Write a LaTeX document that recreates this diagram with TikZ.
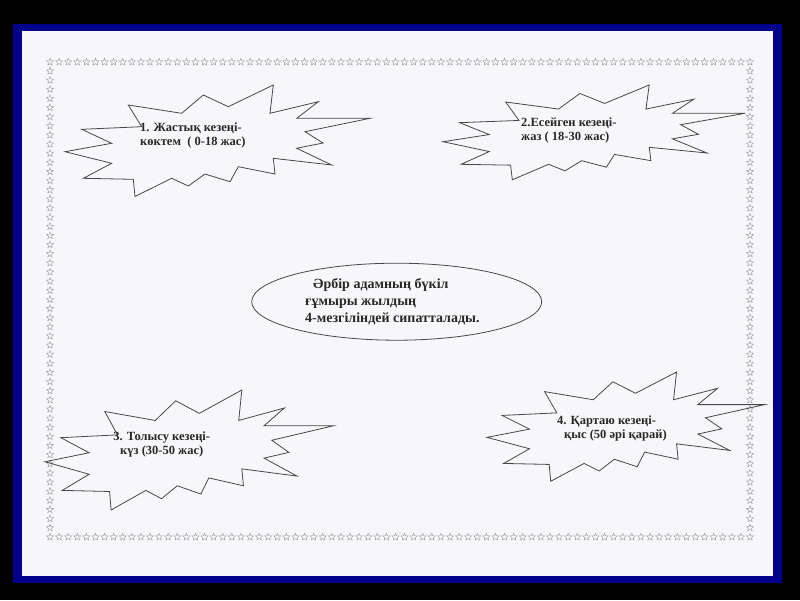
\documentclass[tikz,border=0pt]{standalone}
\usepackage{fontspec}
\setmainfont{Liberation Serif}
\usepackage{tikz}
\usetikzlibrary{shapes.geometric}

\definecolor{framebl}{RGB}{0,0,139}
\definecolor{paper}{RGB}{247,247,250}
\definecolor{ink}{RGB}{40,40,40}
\definecolor{stargr}{RGB}{150,152,162}

\newcommand{\burstpath}{(0,66.7) -- (46.7,58.3) -- (16.7,44.3) -- (76.7,41.7) -- (63.3,20) -- (116.7,28.3) -- (138.3,10) -- (163.3,21.7) -- (208.3,0) -- (205,28.3) -- (253.3,16.7) -- (231.7,33.3) -- (305,33.3) -- (240,46.7) -- (258,58) -- (231.7,63.3) -- (266.7,80) -- (208.3,73.3) -- (210,89) -- (173.3,81.7) -- (165,96.7) -- (140,89) -- (123.3,101) -- (106.7,93.3) -- (70,111.5) -- (68.3,94.3) -- (18.3,93.3) -- (46.7,78.3) -- cycle}

\begin{document}
\begin{tikzpicture}[x=1pt,y=-1pt,
    burst/.style={draw=ink!85, line width=0.8pt},
    starmark/.style={star, star points=5, star point ratio=2.3, draw=stargr, line width=0.4pt, minimum size=7.5pt, inner sep=0pt},
    seasontext/.style={font=\bfseries\fontsize{12.5}{14}\selectfont, text=ink, inner sep=0pt}]
    \fill[black]   (0,0)   rectangle (800,600);
    \fill[framebl] (13,24) rectangle (782,583);
    \fill[paper]   (22,31) rectangle (773,576);
    % star border
    \foreach \i in {0,...,77} {
        \node[starmark] (top\i) at (50+\i*9.0909,62)  {};
        \node[starmark] (bot\i) at (50+\i*9.0909,537) {};
    }
    \foreach \j in {1,...,51} {
        \node[starmark] (lft\j) at (50,62+\j*9.1346)  {};
        \node[starmark] (rgt\j) at (750,62+\j*9.1346) {};
    }
    % bursts
    \draw[burst, shift={(65,85)}]                             \burstpath;
    \draw[burst, shift={(443,85)},  xscale=0.99,  yscale=0.85]  \burstpath;
    \draw[burst, shift={(45,390)},  xscale=0.945, yscale=1.076] \burstpath;
    \draw[burst, shift={(487,372)}, xscale=0.91,  yscale=0.98]  \burstpath;

    \node[seasontext, anchor=west, align=left]   (spring) at (140,135)   {1. Жастық кезеңі-\\көктем \ ( 0-18 жас)};
    \node[seasontext, anchor=west, align=left]   (summer) at (521,130)   {2.Есейген кезеңі-\\жаз ( 18-30 жас)};
    \node[seasontext, align=center]              (autumn) at (161.7,444) {3. Толысу кезеңі-\\күз (30-50 жас)};
    \node[seasontext, anchor=west, align=left]   (winter) at (557,428.5) {4. Қартаю кезеңі-\\\hspace{7pt}қыс (50 әрі қарай)};

    \node[draw=ink!85, line width=0.8pt, ellipse, minimum width=290pt, minimum height=77pt] (life) at (396.7,301.7) {};
    \node[anchor=west, align=left, text=ink, inner sep=0pt, font=\bfseries\fontsize{14}{16.7}\selectfont]
          (lifetext) at (305,301.7) {\hspace{8pt}Әрбір адамның бүкіл\\ғұмыры жылдың\\4-мезгіліндей сипатталады.};
\end{tikzpicture}
\end{document}
